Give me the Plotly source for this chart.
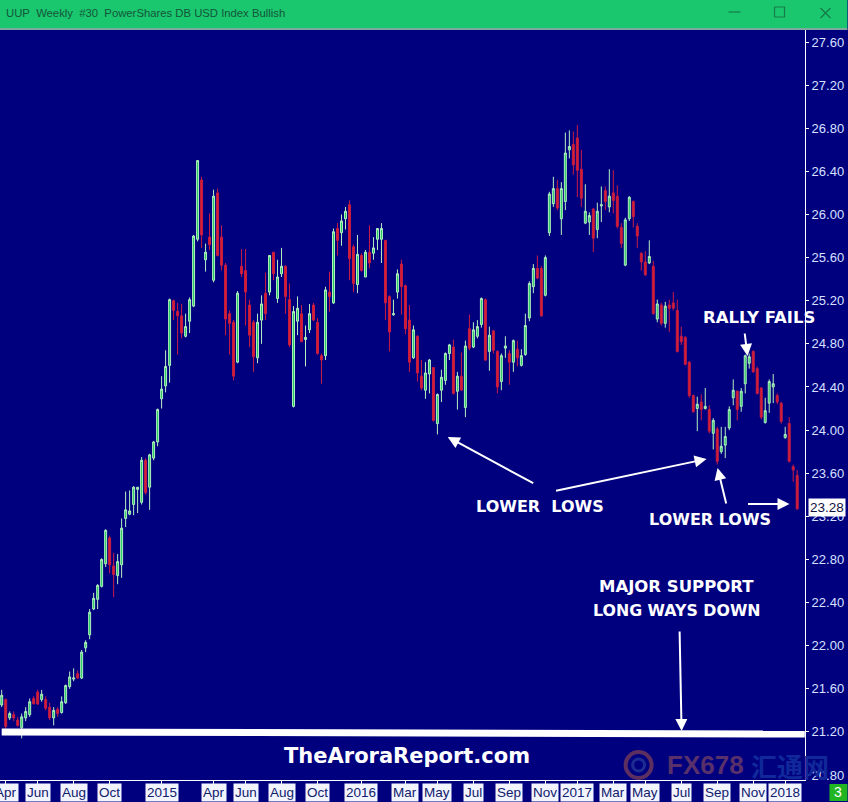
import plotly.graph_objects as go

opens = [21.45,21.50,21.33,21.36,21.31,21.24,21.33,21.36,21.51,21.57,
21.50,21.50,21.43,21.33,21.41,21.38,21.47,21.62,21.69,21.74,
21.70,21.98,22.10,22.34,22.43,22.55,22.76,23.00,22.74,22.65,
22.75,23.18,23.22,23.31,23.45,23.33,23.72,23.47,23.74,23.89,
24.29,24.41,24.60,25.20,25.10,25.06,24.87,25.01,25.15,25.77,
26.32,25.58,25.79,25.39,26.20,25.79,25.53,25.08,25.00,24.63,
25.52,25.48,25.16,25.00,24.67,25.02,25.27,25.28,25.65,25.22,
25.45,25.52,25.21,24.22,25.01,25.08,24.84,24.93,25.16,25.00,
24.69,24.69,25.28,25.18,25.87,25.83,25.96,26.09,25.70,25.35,
25.62,25.42,25.65,25.64,25.77,25.77,25.76,25.24,25.07,25.28,
25.54,25.34,25.02,24.67,24.87,24.50,24.37,24.52,24.58,24.06,
24.37,24.46,24.71,24.77,24.36,24.50,24.21,24.94,24.77,24.87,
24.98,25.21,24.73,24.92,24.73,24.45,24.76,24.71,24.63,24.75,
24.60,24.70,25.04,25.33,25.50,25.50,25.25,25.83,26.10,26.24,
25.96,26.12,26.60,26.65,26.71,26.42,25.92,25.93,26.05,25.86,
26.08,26.22,26.07,26.20,26.17,25.88,25.53,25.96,26.12,25.89,
25.64,25.56,25.55,25.52,25.03,25.16,24.99,25.16,25.18,25.11,
24.87,24.86,24.63,24.32,24.20,24.26,24.20,24.19,23.97,24.01,
23.80,23.86,24.02,24.30,24.36,24.22,24.43,24.62,24.73,24.57,
24.39,24.07,24.25,24.40,24.32,24.25,23.93,24.06,23.66,23.58]
highs = [21.59,21.51,21.39,21.39,21.34,21.37,21.43,21.51,21.53,21.59,
21.59,21.53,21.47,21.43,21.43,21.53,21.64,21.76,21.79,21.77,
21.96,22.05,22.34,22.49,22.57,22.81,23.08,23.02,22.86,22.85,
23.18,23.43,23.44,23.48,23.47,23.75,23.74,23.78,23.90,24.20,
24.50,24.74,25.22,25.21,25.18,25.17,25.08,25.23,25.81,26.50,
26.35,25.73,26.01,26.23,26.24,25.90,25.55,25.11,25.02,25.29,
25.68,25.68,25.21,25.02,25.08,25.25,25.46,25.62,25.65,25.58,
25.69,25.53,25.36,25.15,25.24,25.16,24.97,25.17,25.18,25.04,
24.71,25.33,25.47,25.87,25.92,26.00,26.07,26.13,25.72,25.81,
25.64,25.67,25.90,25.79,25.87,25.92,25.76,25.25,25.21,25.49,
25.58,25.35,25.16,24.97,24.88,24.65,24.63,24.66,24.58,24.34,
24.56,24.72,24.80,24.84,24.54,24.72,24.83,25.07,25.00,25.02,
25.23,25.22,24.96,24.93,24.74,24.71,24.87,24.74,24.84,24.83,
24.75,25.08,25.38,25.54,25.62,25.52,25.62,26.21,26.35,26.32,
26.30,26.76,26.78,26.77,26.83,26.60,26.28,26.02,26.06,26.11,
26.26,26.26,26.42,26.41,26.27,25.92,25.97,26.17,26.13,25.92,
25.65,25.66,25.76,25.57,25.21,25.18,25.19,25.21,25.28,25.21,
24.96,24.87,24.64,24.33,24.31,24.33,24.39,24.23,24.11,24.03,
24.03,24.03,24.22,24.47,24.37,24.39,24.70,24.71,24.74,24.59,
24.40,24.30,24.47,24.52,24.34,24.26,24.03,24.12,23.68,23.63]
lows = [21.43,21.23,21.31,21.30,21.25,21.14,21.30,21.34,21.46,21.45,
21.48,21.40,21.31,21.26,21.34,21.37,21.46,21.60,21.67,21.69,
21.69,21.94,22.06,22.33,22.34,22.54,22.73,22.67,22.45,22.57,
22.63,23.10,23.21,23.21,23.23,23.31,23.40,23.26,23.72,23.85,
24.20,24.35,24.44,25.02,24.70,24.85,24.86,24.90,25.14,25.75,
25.69,25.47,25.67,25.37,25.61,25.48,24.88,24.70,24.46,24.62,
25.42,24.97,24.77,24.54,24.62,24.80,25.02,25.25,25.39,25.18,
25.42,25.08,24.77,24.21,24.88,24.82,24.59,24.90,25.01,24.70,
24.43,24.65,25.10,25.17,25.62,25.71,25.86,25.39,25.28,25.27,
25.47,25.42,25.50,25.58,25.67,25.55,25.02,24.73,25.06,25.22,
25.07,24.89,24.54,24.66,24.45,24.37,24.29,24.34,24.08,23.96,
24.26,24.42,24.65,24.33,24.19,24.37,24.12,24.74,24.76,24.85,
24.95,24.64,24.55,24.71,24.34,24.37,24.67,24.42,24.54,24.59,
24.59,24.69,25.01,25.27,25.40,25.05,25.24,25.80,26.07,26.04,
25.81,26.04,26.52,26.37,26.16,26.07,25.91,25.81,25.65,25.78,
25.93,26.04,26.02,26.01,25.87,25.69,25.52,25.94,25.88,25.69,
25.48,25.43,25.54,25.07,25.00,24.97,24.95,24.91,25.11,24.72,
24.79,24.60,24.30,24.16,23.99,24.09,24.19,23.97,23.82,23.68,
23.78,23.74,24.00,24.23,24.09,24.17,24.34,24.57,24.53,24.33,
24.10,24.06,24.16,24.25,24.24,24.06,23.92,23.70,23.52,23.26]
closes = [21.54,21.25,21.37,21.33,21.26,21.34,21.39,21.48,21.46,21.46,
21.55,21.42,21.33,21.40,21.37,21.48,21.63,21.71,21.70,21.70,
21.94,22.03,22.31,22.44,22.56,22.80,23.07,22.75,22.66,22.78,
23.09,23.26,23.25,23.47,23.47,23.72,23.42,23.77,23.89,24.19,
24.38,24.59,25.21,25.11,25.06,24.90,24.96,25.21,25.80,26.50,
25.81,25.65,25.72,26.17,25.62,25.53,25.03,24.99,24.50,25.27,
25.45,25.28,24.88,24.68,25.00,25.17,25.08,25.62,25.45,25.42,
25.52,25.24,24.79,25.10,25.13,24.82,24.86,25.08,25.02,24.71,
24.65,25.30,25.24,25.84,25.76,25.94,26.03,25.59,25.36,25.63,
25.48,25.65,25.55,25.69,25.87,25.87,25.18,24.91,25.08,25.45,
25.33,24.94,24.63,24.93,24.53,24.39,24.53,24.65,24.09,24.33,
24.49,24.71,24.79,24.34,24.50,24.37,24.78,24.76,24.93,24.96,
25.22,24.65,24.88,24.74,24.40,24.69,24.78,24.63,24.83,24.67,
24.69,24.97,25.36,25.50,25.41,25.06,25.60,26.19,26.24,26.06,
26.24,26.57,26.63,26.46,26.41,26.15,26.03,25.99,25.78,26.03,
26.09,26.12,26.17,26.13,25.89,25.73,25.95,26.16,25.98,25.80,
25.56,25.44,25.61,25.08,25.17,24.99,25.15,25.13,25.13,24.73,
24.82,24.61,24.32,24.17,24.24,24.19,24.22,23.99,24.09,23.71,
23.85,23.94,24.19,24.37,24.19,24.36,24.69,24.68,24.54,24.34,
24.12,24.18,24.45,24.43,24.26,24.08,23.96,23.71,23.63,23.27]
weeks = list(range(len(opens)))

date_labels = ["Apr","Jun","Aug","Oct","2015","Apr","Jun","Aug","Oct","2016","Mar","May",
               "Jul","Sep","Nov","2017","Mar","May","Jul","Sep","Nov","2018"]
date_weeks = [1,9,18,27,40,53,61,70,79,90,101,109,118,127,136,144,153,161,170,179,188,196]
price_ticks = [20.8,21.2,21.6,22.0,22.4,22.8,23.2,23.6,24.0,24.4,24.8,25.2,25.6,26.0,26.4,26.8,27.2,27.6]
last_price = 23.28
support_weeks = [0,200.9]
support_prices = [21.20,21.18]

W,H = 848,802
L_M,R_M,T_M,B_M = 0,42.5,30,22
PW,PH = W-L_M-R_M, H-T_M-B_M
NAVY = "#00007f"
def fx(x): return x/PW
def fy(y): return (H-B_M-y)/PH

fig = go.Figure(go.Candlestick(
    x=weeks, open=opens, high=highs, low=lows, close=closes,
    increasing=dict(line=dict(color="#b4f0c0",width=1),fillcolor="#1ec85a"),
    decreasing=dict(line=dict(color="#c81c44",width=1),fillcolor="#d8202c"),
    whiskerwidth=0, hoverinfo="skip", showlegend=False))

shapes=[]
def rect(x0,y0,x1,y1,fill,line=None,lw=0):
    shapes.append(dict(type="rect",xref="paper",yref="paper",x0=fx(x0),x1=fx(x1),y0=fy(y1),y1=fy(y0),
                       fillcolor=fill,line=dict(color=line or fill,width=lw)))
def seg(x0,y0,x1,y1,color,lw):
    shapes.append(dict(type="line",xref="paper",yref="paper",x0=fx(x0),x1=fx(x1),y0=fy(y0),y1=fy(y1),
                       line=dict(color=color,width=lw)))
rect(0,0,W,28,"#1ac76e")
rect(0,28,W,30,"#7fa8a0")
seg(729,12,741,12,"#167a4a",1.2)
rect(775,7,785,17,"rgba(0,0,0,0)","#167a4a",1.2)
seg(821,8,831,18,"#167a4a",1.2)
seg(821,18,831,8,"#167a4a",1.2)
rect(830,784,848,801,"#22b522")
# support line
shapes.append(dict(type="line",xref="x",yref="y",x0=support_weeks[0],x1=support_weeks[1],
                   y0=support_prices[0],y1=support_prices[1],line=dict(color="white",width=7)))
# watermark logo
shapes.append(dict(type="circle",xref="paper",yref="paper",x0=fx(626),x1=fx(652),y0=fy(778),y1=fy(752),
                   fillcolor="rgba(0,0,0,0)",line=dict(color="#5c2f60",width=4)))
shapes.append(dict(type="circle",xref="paper",yref="paper",x0=fx(633),x1=fx(645),y0=fy(771),y1=fy(759),
                   fillcolor="rgba(0,0,0,0)",line=dict(color="#1c2c90",width=3)))

ann=[]
def text(x,y,s,size,color="white",fam="DejaVu Sans",bold=True,anchor="center",**kw):
    t=f"<b>{s}</b>" if bold else s
    ann.append(dict(xref="paper",yref="paper",x=fx(x),y=fy(y),text=t,showarrow=False,xanchor=anchor,yanchor="middle",
                    font=dict(family=fam,size=size,color=color),**kw))
def arrow(x0,y0,x1,y1):
    ann.append(dict(xref="paper",yref="paper",x=fx(x1),y=fy(y1),axref="pixel",ayref="pixel",ax=x0-x1,ay=y0-y1,text="",
                    showarrow=True,arrowcolor="white",arrowwidth=2,arrowhead=2,arrowsize=1.2))

text(4,13,"UUP&nbsp;&nbsp;Weekly&nbsp;&nbsp;#30&nbsp;&nbsp;PowerShares DB USD Index Bullish",11.3,"#14553a","Liberation Sans",False,"left")
text(759,317,"RALLY FAILS",16.5)
text(540,506,"LOWER&nbsp;&nbsp;LOWS",16)
text(710,519,"LOWER LOWS",16)
text(677,587,"MAJOR SUPPORT",16.5)
text(677,610,"LONG WAYS DOWN",15.8)
text(407,756,"TheAroraReport.com",21)
text(705.5,765,"FX678",26,"#58306a","Liberation Sans")
text(790,765,"汇通网",26,"#10289a","Noto Sans CJK SC")
text(839,792,"3",14,"white","Liberation Sans",False)
arrow(535,484,448,437)
arrow(555,491,707,459)
arrow(727,505,718,468)
arrow(745,332,748,356)
arrow(747,504,790,504)
arrow(680,630,682,731)

for w,lab in zip(date_weeks,date_labels):
    ann.append(dict(xref="x",yref="paper",x=w,y=fy(792),text=lab,showarrow=False,xanchor="center",yanchor="middle",
                    bgcolor="#f2f4ff",borderpad=1,height=15,font=dict(family="Liberation Sans",size=13.5,color="#10206a")))
ann.append(dict(xref="paper",yref="y",x=fx(809),y=last_price,text=f"{last_price:.2f}",showarrow=False,xanchor="left",
                yanchor="middle",bgcolor="white",borderpad=1,font=dict(family="Liberation Sans",size=13.5,color="#101040")))

fig.update_layout(
    width=W,height=H,autosize=False,margin=dict(l=L_M,r=R_M,t=T_M,b=B_M,pad=0),
    paper_bgcolor=NAVY,plot_bgcolor=NAVY,showlegend=False,shapes=shapes,annotations=ann,
    xaxis=dict(range=[-0.425,200.95],rangeslider=dict(visible=False),showgrid=False,zeroline=False,
               tickmode="array",tickvals=date_weeks,ticktext=[""]*len(date_weeks),ticks="outside",ticklen=3,
               tickcolor="white",showline=True,linecolor="white",linewidth=1),
    yaxis=dict(side="right",range=[27.6-(H-B_M-42)/107.8,27.6+12/107.8],showgrid=False,zeroline=False,
               tickmode="array",tickvals=price_ticks,ticktext=[f"{p:.2f}" for p in price_ticks],ticks="outside",ticklen=3,
               tickcolor="white",showline=True,linecolor="white",linewidth=1,
               tickfont=dict(family="Liberation Sans",size=13,color="#d8e0ff")),
)
fig.write_html("out.html",config=dict(displayModeBar=False),post_script="document.body.style.margin='0';")
